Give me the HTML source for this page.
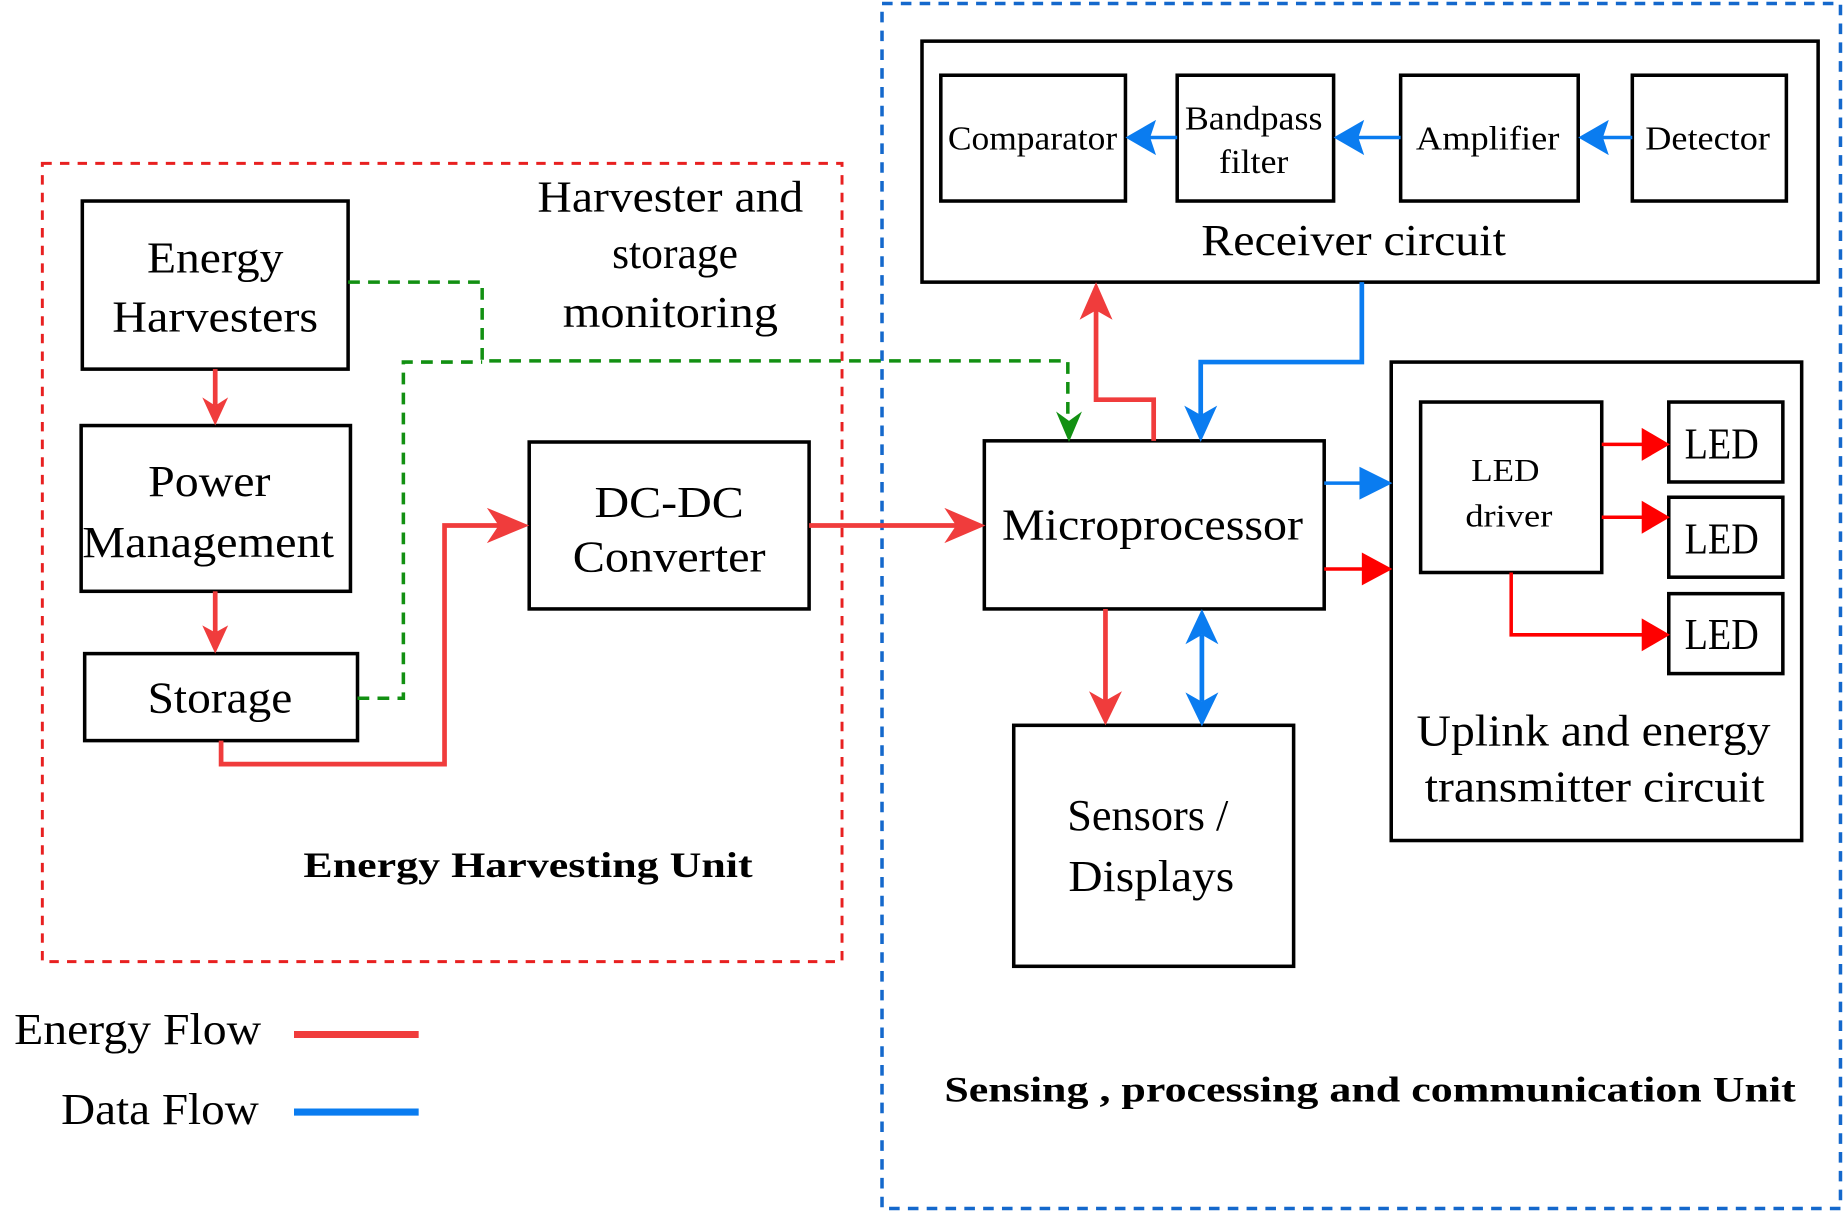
<!DOCTYPE html>
<html><head><meta charset="utf-8"><style>
html,body{margin:0;padding:0;background:#fff;}
svg{display:block;}
text{font-family:"Liberation Serif",serif;fill:#000;}
</style></head><body>
<svg width="1844" height="1212" viewBox="0 0 1568 1031" preserveAspectRatio="none" xmlns="http://www.w3.org/2000/svg">
<g fill="none">
<rect x="750" y="3" width="815" height="1025" stroke="#1468cc" stroke-width="3" stroke-dasharray="9,7"/>
<rect x="36" y="139" width="680" height="679" stroke="#e82020" stroke-width="2.5" stroke-dasharray="8,7"/>
<g stroke="#000" stroke-width="3">
<rect x="70" y="171" width="226" height="143"/>
<rect x="69" y="362" width="229" height="141"/>
<rect x="72" y="556" width="232" height="74"/>
<rect x="450" y="376" width="238" height="142"/>
<rect x="784" y="35" width="762" height="205"/>
<rect x="800" y="64" width="157" height="107"/>
<rect x="1001" y="64" width="133" height="107"/>
<rect x="1191" y="64" width="151" height="107"/>
<rect x="1388" y="64" width="131" height="107"/>
<rect x="837" y="375" width="289" height="143"/>
<rect x="1183" y="308" width="349" height="407"/>
<rect x="1208" y="342" width="154" height="145"/>
<rect x="1419" y="342" width="97" height="68"/>
<rect x="1419" y="423" width="97" height="68"/>
<rect x="1419" y="505" width="97" height="68"/>
<rect x="862" y="617" width="238" height="205"/>
</g>
<g stroke="#129012" stroke-width="3" stroke-dasharray="10,7">
<path d="M296,240 H410 V307 H908 V360"/>
<path d="M304,594 H343 V308 H410"/>
</g>
<path d="M898,350 L909,376 L920,350 L909,358 Z" fill="#129012"/>
<g stroke="#f03c3c" stroke-width="4">
<path d="M183,314 V345"/>
<path d="M183,503 V538"/>
<path d="M188,630 V650 H378 V447 H430"/>
<path d="M688,447 H818"/>
<path d="M981,375 V340 H932 V262"/>
<path d="M940,518 V597"/>
</g>
<path d="M172,338 L183,362 L194,338 L183,345 Z" fill="#f03c3c"/>
<path d="M172,532 L183,556 L194,532 L183,538 Z" fill="#f03c3c"/>
<path d="M414,432 L450,447 L414,462 L424,447 Z" fill="#f03c3c"/>
<path d="M803,432 L838,447 L803,462 L813,447 Z" fill="#f03c3c"/>
<path d="M918,272 L932,240 L946,272 L932,264 Z" fill="#f03c3c"/>
<path d="M926,588 L940,617 L954,588 L940,596 Z" fill="#f03c3c"/>
<g stroke="#f00" stroke-width="3">
<path d="M1126,484 H1163"/>
<path d="M1362,378 H1400"/>
<path d="M1362,440 H1400"/>
<path d="M1285,487 V540 H1400"/>
</g>
<path d="M1158,470 L1184,484 L1158,498 Z" fill="#f00"/>
<path d="M1396,364 L1420,378 L1396,392 Z" fill="#f00"/>
<path d="M1396,426 L1420,440 L1396,454 Z" fill="#f00"/>
<path d="M1396,526 L1420,540 L1396,554 Z" fill="#f00"/>
<g stroke="#0a7cf0" stroke-width="4">
<path d="M1158,240 V308 H1021 V355"/>
<path d="M1022,540 V597"/>
</g>
<g stroke="#0a7cf0" stroke-width="3">
<path d="M975,117 H1001"/>
<path d="M1150,117 H1191"/>
<path d="M1360,117 H1388"/>
<path d="M1126,411 H1160"/>
</g>
<path d="M1007,345 L1021,376 L1035,345 L1021,353 Z" fill="#0a7cf0"/>
<path d="M1008,548 L1022,518 L1036,548 L1022,540 Z" fill="#0a7cf0"/>
<path d="M1008,589 L1022,618 L1036,589 L1022,597 Z" fill="#0a7cf0"/>
<path d="M983,102 L957,117 L983,132 L978,117 Z" fill="#0a7cf0"/>
<path d="M1160,102 L1134,117 L1160,132 L1155,117 Z" fill="#0a7cf0"/>
<path d="M1368,102 L1342,117 L1368,132 L1363,117 Z" fill="#0a7cf0"/>
<path d="M1156,397 L1184,411 L1156,425 Z" fill="#0a7cf0"/>
<path d="M250,880 H356" stroke="#f03c3c" stroke-width="6"/>
<path d="M250,946 H356" stroke="#0a7cf0" stroke-width="6"/>
</g>
<g font-size="38" text-anchor="middle" lengthAdjust="spacingAndGlyphs">
<text x="183" y="232" textLength="116" lengthAdjust="spacingAndGlyphs">Energy</text>
<text x="183" y="282" textLength="175" lengthAdjust="spacingAndGlyphs">Harvesters</text>
<text x="178" y="422" textLength="104" lengthAdjust="spacingAndGlyphs">Power</text>
<text x="177" y="474" textLength="214" lengthAdjust="spacingAndGlyphs">Management</text>
<text x="187" y="606" textLength="123" lengthAdjust="spacingAndGlyphs">Storage</text>
<text x="569" y="440" textLength="127" lengthAdjust="spacingAndGlyphs">DC-DC</text>
<text x="569" y="486" textLength="164" lengthAdjust="spacingAndGlyphs">Converter</text>
<text x="570" y="180" textLength="226" lengthAdjust="spacingAndGlyphs">Harvester and</text>
<text x="574" y="228" textLength="107" lengthAdjust="spacingAndGlyphs">storage</text>
<text x="570" y="278" textLength="183" lengthAdjust="spacingAndGlyphs">monitoring</text>
<text x="1151" y="217" textLength="259" lengthAdjust="spacingAndGlyphs">Receiver circuit</text>
<text x="980" y="459" textLength="256" lengthAdjust="spacingAndGlyphs">Microprocessor</text>
<text x="976" y="706" textLength="137" lengthAdjust="spacingAndGlyphs">Sensors /</text>
<text x="979" y="758" textLength="141" lengthAdjust="spacingAndGlyphs">Displays</text>
<text x="1355" y="634" textLength="301" lengthAdjust="spacingAndGlyphs">Uplink and energy</text>
<text x="1356" y="682" textLength="289" lengthAdjust="spacingAndGlyphs">transmitter circuit</text>
<text x="1464" y="390" textLength="63" lengthAdjust="spacingAndGlyphs">LED</text>
<text x="1464" y="471" textLength="63" lengthAdjust="spacingAndGlyphs">LED</text>
<text x="1464" y="552" textLength="63" lengthAdjust="spacingAndGlyphs">LED</text>
</g>
<g font-size="29" text-anchor="middle">
<text x="878" y="127" textLength="144" lengthAdjust="spacingAndGlyphs">Comparator</text>
<text x="1066" y="110" textLength="117" lengthAdjust="spacingAndGlyphs">Bandpass</text>
<text x="1066" y="147" textLength="59" lengthAdjust="spacingAndGlyphs">filter</text>
<text x="1265" y="127" textLength="122" lengthAdjust="spacingAndGlyphs">Amplifier</text>
<text x="1452" y="127" textLength="106" lengthAdjust="spacingAndGlyphs">Detector</text>
<text x="1280" y="409" font-size="27" textLength="58" lengthAdjust="spacingAndGlyphs">LED</text>
<text x="1283" y="448" font-size="27" textLength="74" lengthAdjust="spacingAndGlyphs">driver</text>
</g>
<g font-size="31" font-weight="bold" text-anchor="middle">
<text x="449" y="746" textLength="382" lengthAdjust="spacingAndGlyphs">Energy Harvesting Unit</text>
<text x="1165" y="937" textLength="724" lengthAdjust="spacingAndGlyphs">Sensing , processing and communication Unit</text>
</g>
<g font-size="38">
<text x="12" y="888" textLength="210" lengthAdjust="spacingAndGlyphs">Energy Flow</text>
<text x="52" y="956" textLength="168" lengthAdjust="spacingAndGlyphs">Data Flow</text>
</g>
</svg>
</body></html>
